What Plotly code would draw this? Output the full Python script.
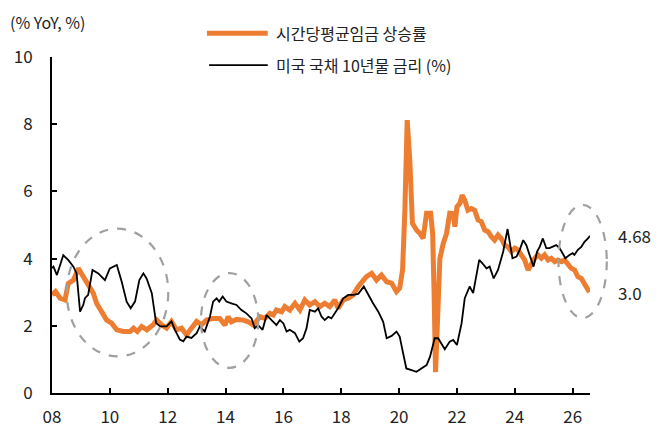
import plotly.graph_objects as go

# decimal years and values
wage_x = [2008.00, 2008.12, 2008.28, 2008.45, 2008.56, 2008.74, 2008.91, 2009.08, 2009.25, 2009.43,
          2009.54, 2009.72, 2009.89, 2010.06, 2010.24, 2010.47, 2010.70, 2010.82, 2010.95, 2011.10,
          2011.28, 2011.50, 2011.62, 2011.79, 2011.96, 2012.13, 2012.30, 2012.48, 2012.65, 2012.82,
          2013.00, 2013.17, 2013.34, 2013.57, 2013.80, 2013.98, 2014.09, 2014.20, 2014.38, 2014.61,
          2014.78, 2014.96, 2015.07, 2015.19, 2015.36, 2015.53, 2015.65, 2015.76, 2015.94, 2016.05,
          2016.22, 2016.40, 2016.57, 2016.74, 2016.91, 2017.09, 2017.26, 2017.43, 2017.60, 2017.78,
          2017.89, 2018.07, 2018.24, 2018.41, 2018.59, 2018.70, 2018.87, 2019.05, 2019.22, 2019.39,
          2019.57, 2019.74, 2019.91, 2020.02, 2020.12, 2020.20, 2020.28, 2020.37, 2020.46, 2020.60,
          2020.72, 2020.83, 2020.95, 2021.09, 2021.16, 2021.21, 2021.26, 2021.32, 2021.41, 2021.52,
          2021.64, 2021.75, 2021.87, 2021.93, 2022.00, 2022.10, 2022.18, 2022.27, 2022.38, 2022.50,
          2022.61, 2022.73, 2022.84, 2022.96, 2023.08, 2023.19, 2023.30, 2023.42, 2023.53, 2023.65,
          2023.76, 2023.88, 2024.00, 2024.11, 2024.22, 2024.34, 2024.46, 2024.57, 2024.69, 2024.80,
          2024.92, 2025.03, 2025.15, 2025.26, 2025.38, 2025.49, 2025.61, 2025.72, 2025.84, 2025.95,
          2026.07, 2026.18, 2026.30, 2026.41, 2026.53, 2026.58]
wage_y = [2.92, 3.02, 2.82, 2.77, 3.26, 3.36, 3.71, 3.46, 3.26, 2.97,
          2.67, 2.42, 2.17, 2.08, 1.88, 1.83, 1.83, 1.93, 1.83, 1.98,
          1.88, 2.03, 2.17, 2.03, 1.93, 2.13, 1.88, 1.93, 1.73, 1.93,
          2.13, 2.03, 2.17, 2.22, 2.22, 2.02, 2.27, 2.12, 2.19, 2.17,
          2.12, 2.02, 2.17, 2.27, 2.22, 2.37, 2.32, 2.47, 2.42, 2.57,
          2.47, 2.67, 2.47, 2.77, 2.62, 2.72, 2.57, 2.67, 2.57, 2.77,
          2.52, 2.77, 2.82, 2.92, 3.17, 3.27, 3.46, 3.56, 3.36, 3.51,
          3.31, 3.27, 3.02, 3.12, 3.66, 5.45, 8.12, 6.93, 5.05, 4.85,
          4.75, 4.60, 5.35, 5.35, 4.75, 2.96, 0.62, 1.97, 4.00, 4.43,
          4.75, 5.35, 5.34, 4.95, 5.54, 5.64, 5.89, 5.74, 5.44, 5.49,
          5.44, 5.15, 5.10, 4.85, 4.80, 4.65, 4.55, 4.70, 4.60, 4.40,
          4.35, 4.21, 4.31, 4.26, 4.11, 3.96, 3.66, 3.86, 4.01, 4.11,
          4.01, 4.11, 3.96, 4.01, 3.91, 3.96, 3.91, 3.96, 3.81, 3.71,
          3.66, 3.46, 3.41, 3.27, 3.10, 3.00]

ust_x = [2008.00, 2008.05, 2008.17, 2008.39, 2008.56, 2008.74, 2008.85, 2008.97, 2009.08, 2009.14,
         2009.25, 2009.40, 2009.60, 2009.83, 2010.00, 2010.24, 2010.41, 2010.58, 2010.72, 2010.87,
         2011.02, 2011.16, 2011.27, 2011.39, 2011.45, 2011.60, 2011.74, 2011.96, 2012.13, 2012.25,
         2012.42, 2012.54, 2012.65, 2012.82, 2013.00, 2013.11, 2013.28, 2013.46, 2013.57, 2013.69,
         2013.78, 2013.90, 2014.03, 2014.20, 2014.38, 2014.55, 2014.72, 2014.90, 2015.01, 2015.13,
         2015.28, 2015.42, 2015.53, 2015.65, 2015.76, 2015.88, 2016.00, 2016.11, 2016.22, 2016.40,
         2016.55, 2016.68, 2016.80, 2016.91, 2017.09, 2017.20, 2017.32, 2017.43, 2017.55, 2017.66,
         2017.78, 2017.89, 2018.07, 2018.24, 2018.41, 2018.59, 2018.78, 2018.93, 2019.10, 2019.28,
         2019.45, 2019.57, 2019.74, 2019.91, 2020.02, 2020.14, 2020.25, 2020.43, 2020.60, 2020.77,
         2020.95, 2021.07, 2021.23, 2021.35, 2021.46, 2021.58, 2021.75, 2021.87, 2022.00, 2022.16,
         2022.27, 2022.44, 2022.56, 2022.67, 2022.77, 2022.88, 2023.02, 2023.13, 2023.27, 2023.42,
         2023.60, 2023.75, 2023.83, 2023.92, 2024.06, 2024.17, 2024.29, 2024.40, 2024.51, 2024.65,
         2024.77, 2024.86, 2024.97, 2025.09, 2025.20, 2025.32, 2025.43, 2025.55, 2025.66, 2025.75,
         2025.89, 2026.00, 2026.06, 2026.18, 2026.30, 2026.41, 2026.53, 2026.60]
ust_y = [3.72, 3.76, 3.51, 4.10, 3.96, 3.76, 3.56, 2.42, 2.62, 2.82,
         2.92, 3.66, 3.56, 3.36, 3.71, 3.81, 3.31, 2.72, 2.52, 2.72,
         3.36, 3.56, 3.41, 3.07, 2.97, 2.08, 1.98, 1.98, 2.13, 1.88,
         1.59, 1.54, 1.68, 1.64, 1.78, 1.98, 1.83, 2.27, 2.72, 2.82,
         2.72, 2.87, 2.72, 2.67, 2.62, 2.47, 2.37, 2.22, 1.93, 2.02,
         1.88, 2.32, 2.22, 2.12, 2.02, 2.17, 2.07, 1.83, 1.88, 1.78,
         1.53, 1.63, 1.93, 2.47, 2.42, 2.52, 2.27, 2.17, 2.27, 2.22,
         2.37, 2.52, 2.82, 2.92, 2.92, 2.95, 3.17, 2.92, 2.67, 2.42,
         2.12, 1.63, 1.70, 1.83, 1.68, 1.18, 0.73, 0.68, 0.63, 0.73,
         0.83, 1.08, 1.63, 1.63, 1.48, 1.30, 1.53, 1.58, 1.43, 2.07,
         2.82, 3.17, 2.97, 3.56, 3.96, 3.86, 3.71, 3.76, 3.41, 3.66,
         4.21, 4.88, 4.45, 4.01, 4.06, 4.26, 4.55, 4.40, 4.11, 3.76,
         4.21, 4.35, 4.60, 4.31, 4.31, 4.35, 4.40, 4.31, 4.16, 4.01,
         4.11, 4.16, 4.11, 4.26, 4.35, 4.50, 4.60, 4.68]

tick_vals = [2008, 2010, 2012, 2014, 2016, 2018, 2020, 2022, 2024, 2026]
tick_text = ['08', '10', '12', '14', '16', '18', '20', '22', '24', '26']

wage_name = '시간당평균임금 상승률'
ust_name = '미국 국채 10년물 금리 (%)'

# highlighted periods (x0, x1, y0, y1) in data units
circles = [(2008.51, 2012.02, 1.09, 4.89),
           (2013.15, 2015.13, 0.75, 3.57),
           (2025.51, 2027.18, 2.23, 5.60)]

X_RANGE = [2008, 2026.6]
Y_RANGE = [0, 10]
ORANGE = '#ED7D31'
FONT = 'Noto Sans CJK KR'


def to_paper(v, rng):
    return (v - rng[0]) / (rng[1] - rng[0])


fig = go.Figure()
fig.add_trace(go.Scatter(x=wage_x, y=wage_y, mode='lines', name=wage_name,
                         line=dict(color=ORANGE, width=5), cliponaxis=False))
fig.add_trace(go.Scatter(x=ust_x, y=ust_y, mode='lines', name=ust_name,
                         line=dict(color='black', width=1.8), cliponaxis=False))

for c in circles:
    # paper refs so the last one is not clipped at the right edge
    fig.add_shape(type='circle', xref='paper', yref='paper',
                  x0=to_paper(c[0], X_RANGE), x1=to_paper(c[1], X_RANGE),
                  y0=to_paper(c[2], Y_RANGE), y1=to_paper(c[3], Y_RANGE),
                  line=dict(color='#A0A0A0', width=2.2, dash='dash'))

# legend drawn by hand (long line samples)
fig.add_shape(type='line', xref='paper', yref='paper', x0=0.288, x1=0.401, y0=1.071, y1=1.071,
              line=dict(color=ORANGE, width=5))
fig.add_shape(type='line', xref='paper', yref='paper', x0=0.292, x1=0.401, y0=0.976, y1=0.976,
              line=dict(color='black', width=1.8))
fig.add_annotation(xref='paper', yref='paper', x=0.412, y=1.071, text=wage_name, showarrow=False,
                   xanchor='left', yanchor='middle', font=dict(size=16, color='#222'))
fig.add_annotation(xref='paper', yref='paper', x=0.412, y=0.976, text=ust_name, showarrow=False,
                   xanchor='left', yanchor='middle', font=dict(size=16, color='#222'))

fig.add_annotation(xref='paper', yref='paper', x=-0.082, y=1.105, text='(% YoY, %)', showarrow=False,
                   xanchor='left', yanchor='middle', font=dict(size=16, color='#222'))

fig.add_annotation(xref='paper', x=1.048, y=ust_y[-1], text=f'{ust_y[-1]:.2f}', showarrow=False,
                   xanchor='left', yanchor='middle', font=dict(size=17, color='#222'))
fig.add_annotation(xref='paper', x=1.048, y=wage_y[-1], text=f'{wage_y[-1]:.1f}', showarrow=False,
                   xanchor='left', yanchor='middle', font=dict(size=17, color='#222'))

fig.update_layout(
    width=662, height=434,
    margin=dict(l=52, r=72, t=57, b=41, autoexpand=False),
    plot_bgcolor='white', paper_bgcolor='white',
    showlegend=False,
    font=dict(family=FONT, size=17, color='#222'),
    xaxis=dict(range=X_RANGE, tickvals=tick_vals, ticktext=tick_text, automargin=False,
               showgrid=False, zeroline=False, showline=True, linecolor='black', linewidth=2,
               ticks='inside', ticklen=5, tickwidth=2, tickcolor='black', ticklabelstandoff=8),
    yaxis=dict(range=Y_RANGE, dtick=2, showgrid=False, zeroline=False, automargin=False,
               showline=True, linecolor='black', linewidth=2,
               ticks='inside', ticklen=5, tickwidth=2, tickcolor='black', ticklabelstandoff=14),
)

# the page's default body margin would shift the figure by 8px
fig.write_html("out.html", config={'displayModeBar': False},
               post_script="document.body.style.margin='0';")
